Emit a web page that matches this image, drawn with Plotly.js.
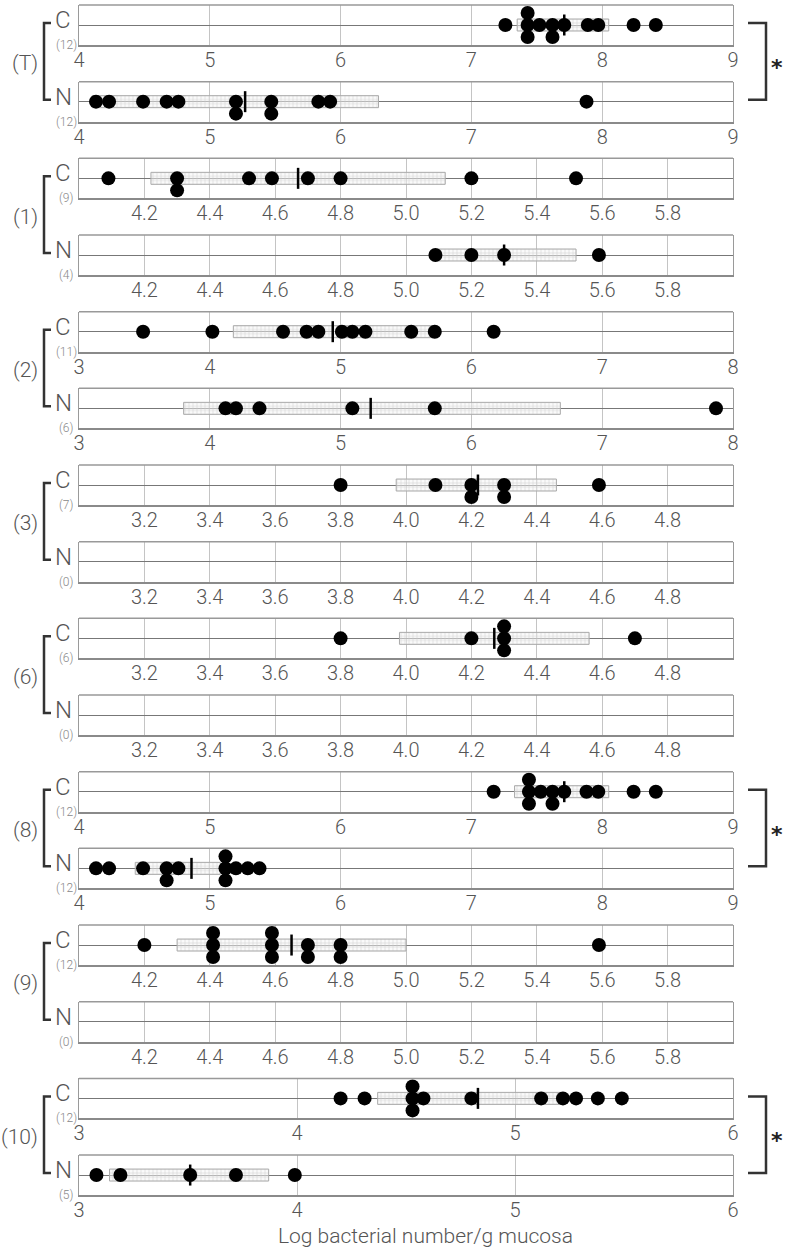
<!DOCTYPE html>
<html><head><meta charset="utf-8">
<script src="https://cdn.plot.ly/plotly-3.0.1.min.js"></script>
<style>html,body{margin:0;padding:0;background:#fff}</style>
</head><body><div id="chart" style="width:785px;height:1249px"></div>
<script>
// ---------- data ----------
const groups = ['(T)', '(1)', '(2)', '(3)', '(6)', '(8)', '(9)', '(10)'];
const significant = [true, false, false, false, false, true, false, true];

const tC  = [7.26, 7.43, 7.43, 7.43, 7.52, 7.62, 7.62, 7.71, 7.89, 7.97, 8.24, 8.41];
const tN  = [4.13, 4.23, 4.49, 4.67, 4.76, 5.20, 5.20, 5.47, 5.47, 5.83, 5.92, 7.88];
const g1C = [4.09, 4.30, 4.30, 4.52, 4.59, 4.70, 4.80, 5.20, 5.52];
const g1N = [5.09, 5.20, 5.30, 5.59];
const g2C = [3.49, 4.02, 4.56, 4.74, 4.83, 5.01, 5.09, 5.19, 5.54, 5.72, 6.17];
const g2N = [4.12, 4.20, 4.38, 5.09, 5.72, 7.87];
const g3C = [3.80, 4.09, 4.20, 4.20, 4.30, 4.30, 4.59];
const g3N = [];
const g6C = [3.80, 4.20, 4.30, 4.30, 4.30, 4.70];
const g6N = [];
const g8C = [7.17, 7.44, 7.44, 7.44, 7.53, 7.62, 7.62, 7.71, 7.88, 7.97, 8.24, 8.41];
const g8N = [4.13, 4.23, 4.49, 4.67, 4.67, 4.76, 5.12, 5.12, 5.12, 5.20, 5.29, 5.38];
const g9C = [4.20, 4.41, 4.41, 4.41, 4.59, 4.59, 4.59, 4.70, 4.70, 4.80, 4.80, 5.59];
const g9N = [];
const g10C = [4.20, 4.31, 4.53, 4.53, 4.53, 4.58, 4.80, 5.12, 5.22, 5.28, 5.38, 5.49];
const g10N = [3.08, 3.19, 3.51, 3.72, 3.99];

// box (low, high) and mean per series; null = no box
const boxC  = [[7.35, 8.05], [4.22, 5.12], [4.18, 5.70], [3.97, 4.46], [3.98, 4.56], [7.33, 8.05], [4.30, 5.00], [4.37, 5.21]];
const boxN  = [[4.10, 6.29], [5.10, 5.52], [3.80, 6.68], null, null, [4.43, 5.08], null, [3.14, 3.87]];
const meanC = [7.71, 4.67, 4.94, 4.22, 4.27, 7.71, 4.65, 4.83];
const meanN = [5.27, 5.30, 5.23, null, null, 4.86, null, 3.51];

const ranges = [[4, 9], [4, 6], [3, 8], [3, 5], [3, 5], [4, 9], [4, 6], [3, 6]];
const ticksInt49 = [4, 5, 6, 7, 8, 9];
const ticksDec46 = [4.2, 4.4, 4.6, 4.8, 5.0, 5.2, 5.4, 5.6, 5.8];
const ticksInt38 = [3, 4, 5, 6, 7, 8];
const ticksDec35 = [3.2, 3.4, 3.6, 3.8, 4.0, 4.2, 4.4, 4.6, 4.8];
const ticksInt36 = [3, 4, 5, 6];
const tickSets = [ticksInt49, ticksDec46, ticksInt38, ticksDec35, ticksDec35, ticksInt49, ticksDec46, ticksInt36];
const tickDecimals = [0, 1, 0, 1, 1, 0, 1, 0];

const cSeries = [tC, g1C, g2C, g3C, g6C, g8C, g9C, g10C];
const nSeries = [tN, g1N, g2N, g3N, g6N, g8N, g9N, g10N];
const xTitle = 'Log bacterial number/g mucosa';

// ---------- layout helpers ----------
const W = 785, H = 1249;
const X0 = 79, X1 = 733;
const PANEL_H = 40, STEP = 76.67, TOP0 = 5;
const FONT = "Roboto, 'Liberation Sans', sans-serif";
const px = p => p / W;
const py = p => 1 - p / H;

const layout = {
  width: W, height: H,
  margin: {l: 0, r: 0, t: 0, b: 0},
  paper_bgcolor: '#fff', plot_bgcolor: '#fff',
  showlegend: false, hovermode: false, barmode: 'overlay',
  annotations: [], shapes: []
};
const traces = [];

function stackOffsets(vals) {
  const seen = {};
  const order = [0, -0.6, 0.6, -1.2, 1.2];
  return vals.map(v => {
    const k = v.toFixed(3);
    seen[k] = (seen[k] || 0);
    const o = order[seen[k]];
    seen[k]++;
    return o;
  });
}

function addPanel(k, g, vals, box, mean) {
  const top = TOP0 + k * STEP;
  const xs = k === 0 ? '' : String(k + 1);
  const xref = 'x' + xs, yref = 'y' + xs;
  const ticks = tickSets[g];
  layout['xaxis' + xs] = {
    domain: [px(X0), px(X1)], anchor: yref, range: ranges[g],
    tickmode: 'array', tickvals: ticks,
    ticktext: ticks.map(t => t.toFixed(tickDecimals[g])),
    showgrid: true, gridcolor: '#c4c4c4', gridwidth: 1,
    zeroline: false, showline: true, mirror: false, linecolor: '#8a8a8a', linewidth: 2,
    ticks: '', ticklabelstandoff: -4,
    tickfont: {family: FONT, size: 20, color: '#555', weight: 300}, fixedrange: true
  };
  layout['yaxis' + xs] = {
    domain: [py(top + PANEL_H), py(top)], anchor: xref, range: [-1, 1],
    showticklabels: false, showgrid: false, ticks: '',
    zeroline: true, zerolinecolor: '#777', zerolinewidth: 1,
    showline: true, mirror: true, linecolor: '#9a9a9a', linewidth: 1, fixedrange: true
  };
  // top frame line
  layout.shapes.push({type: 'line', xref: xref + ' domain', yref: yref + ' domain',
    x0: 0, x1: 1, y0: 1, y1: 1, line: {color: '#999', width: 1.5}});
  // placeholder trace so that every subplot (even empty ones) is drawn
  traces.push({type: 'scatter', mode: 'markers', xaxis: xref, yaxis: yref, x: [], y: []});
  if (box) {
    traces.push({
      type: 'bar', orientation: 'h', xaxis: xref, yaxis: yref,
      y: [0], base: [box[0]], x: [box[1] - box[0]], width: 0.6,
      marker: {color: 'rgba(238,238,238,0.6)', line: {color: '#aaa', width: 1},
               pattern: {shape: '+', fgcolor: '#c9c9c9', bgcolor: 'rgba(245,245,245,0.5)', size: 4, solidity: 0.2}}
    });
  }
  if (vals.length) {
    traces.push({
      type: 'scatter', mode: 'markers', xaxis: xref, yaxis: yref,
      x: vals, y: stackOffsets(vals), cliponaxis: false,
      marker: {color: '#000', size: 14}
    });
  }
  if (mean !== null && mean !== undefined) {
    traces.push({
      type: 'scatter', mode: 'markers', xaxis: xref, yaxis: yref,
      x: [mean], y: [0], cliponaxis: false,
      marker: {symbol: 'line-ns', size: 15, color: '#000', line: {color: '#000', width: 2.5}}
    });
  }
  return top + PANEL_H / 2;
}

for (let g = 0; g < groups.length; g++) {
  const cC = addPanel(2 * g, g, cSeries[g], boxC[g], meanC[g]);
  const cN = addPanel(2 * g + 1, g, nSeries[g], boxN[g], meanN[g]);
  const mid = (cC + cN) / 2;
  const rowLabel = (txt, c) => [
    {xref: 'paper', yref: 'paper', x: px(63), y: py(c + 11), text: txt, showarrow: false,
     xanchor: 'center', yanchor: 'bottom', font: {family: FONT, size: 24, color: '#555', weight: 300}},
    {xref: 'paper', yref: 'paper', x: px(66), y: py(c + 11), text: '(' + (txt === 'C' ? cSeries[g] : nSeries[g]).length + ')',
     showarrow: false, xanchor: 'center', yanchor: 'top', font: {family: FONT, size: 12, color: '#888', weight: 300}}
  ];
  layout.annotations.push(...rowLabel('C', cC), ...rowLabel('N', cN));
  layout.annotations.push({
    xref: 'paper', yref: 'paper', x: px(40), y: py(mid), text: groups[g], showarrow: false,
    xanchor: 'right', yanchor: 'middle', font: {family: FONT, size: 21, color: '#555', weight: 300}
  });
  layout.shapes.push({
    type: 'path', xref: 'paper', yref: 'paper',
    path: `M ${px(51)} ${py(cC - 2)} L ${px(44)} ${py(cC - 2)} L ${px(44)} ${py(cN - 2)} L ${px(51)} ${py(cN - 2)}`,
    line: {color: '#333', width: 2.5}
  });
  if (significant[g]) {
    layout.shapes.push({
      type: 'path', xref: 'paper', yref: 'paper',
      path: `M ${px(748)} ${py(cC - 2)} L ${px(766)} ${py(cC - 2)} L ${px(766)} ${py(cN - 2)} L ${px(748)} ${py(cN - 2)}`,
      line: {color: '#333', width: 2.5}
    });
    layout.annotations.push({
      xref: 'paper', yref: 'paper', x: px(777), y: py(mid + 4), text: '<b>*</b>', showarrow: false,
      xanchor: 'center', yanchor: 'middle', font: {family: 'DejaVu Sans', size: 22, color: '#222'}
    });
  }
}

layout.annotations.push({
  xref: 'paper', yref: 'paper', x: px(425), y: py(1236), text: xTitle, showarrow: false,
  xanchor: 'center', yanchor: 'middle', font: {family: FONT, size: 21, color: '#555', weight: 300}
});

Plotly.newPlot('chart', traces, layout, {staticPlot: true, displayModeBar: false});
</script></body></html>
